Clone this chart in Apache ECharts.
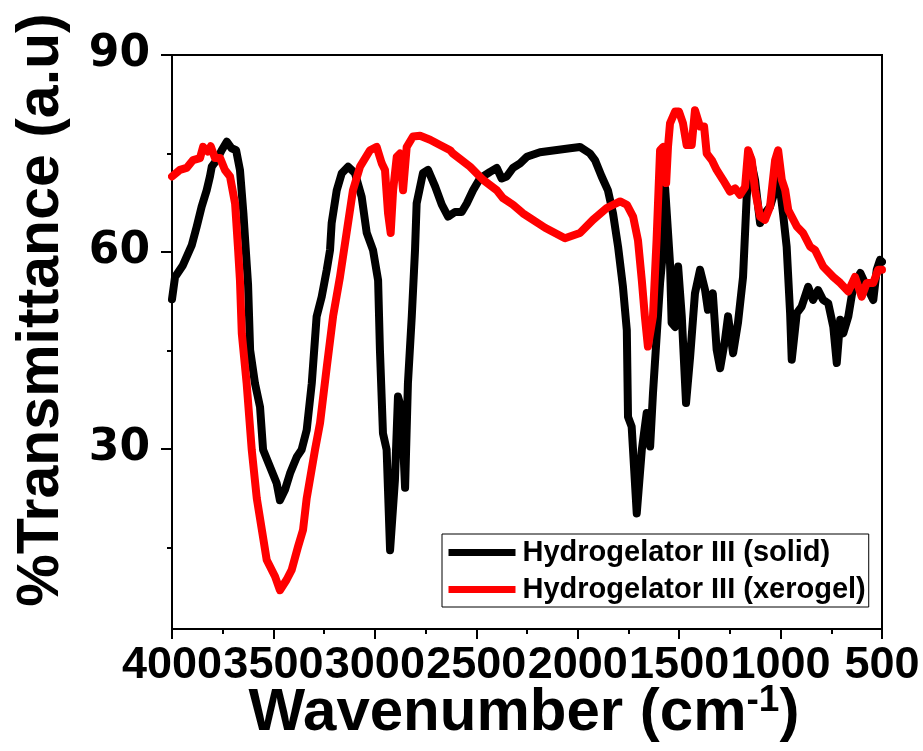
<!DOCTYPE html>
<html>
<head>
<meta charset="utf-8">
<script src="https://cdn.jsdelivr.net/npm/echarts@6/dist/echarts.min.js"></script>
<style>
  html, body { margin: 0; padding: 0; background: #fff; }
  #chart { width: 923px; height: 751px; }
</style>
</head>
<body>
<div id="chart"></div>
<script>
// FTIR spectra of hydrogelator III: solid powder vs. xerogel
const seriesNames = ['Hydrogelator III (solid)', 'Hydrogelator III (xerogel)'];

const solidWavenumber = [4000, 3985, 3946, 3903, 3878, 3854, 3829, 3813, 3804, 3780, 3755, 3730, 3706, 3684, 3665, 3648, 3632, 3625, 3615, 3591, 3566, 3551, 3517, 3484, 3468, 3443, 3418, 3385, 3361, 3336, 3311, 3287, 3262, 3237, 3221, 3213, 3188, 3163, 3132, 3098, 3065, 3040, 3009, 2984, 2975, 2960, 2942, 2925, 2901, 2886, 2868, 2851, 2837, 2818, 2802, 2794, 2763, 2738, 2703, 2670, 2639, 2605, 2572, 2547, 2516, 2482, 2432, 2399, 2375, 2350, 2319, 2284, 2251, 2186, 2112, 2038, 1989, 1939, 1915, 1882, 1851, 1826, 1801, 1777, 1758, 1752, 1734, 1709, 1684, 1660, 1643, 1629, 1610, 1594, 1579, 1569, 1545, 1537, 1520, 1505, 1487, 1466, 1446, 1422, 1397, 1372, 1358, 1334, 1315, 1298, 1274, 1259, 1234, 1210, 1185, 1167, 1150, 1126, 1101, 1077, 1052, 1027, 1008, 988, 970, 953, 945, 920, 896, 864, 840, 815, 790, 765, 740, 723, 706, 691, 666, 642, 607, 575, 543, 526, 510, 500];
const solidTransmittance = [52.8, 56.2, 58.0, 61.0, 63.9, 66.9, 69.4, 71.5, 73.0, 74.0, 75.5, 76.8, 75.8, 75.5, 72.5, 65.9, 58.3, 55.0, 45.1, 40.0, 36.4, 29.9, 27.3, 24.8, 22.2, 23.8, 26.3, 28.8, 29.9, 32.9, 40.0, 50.2, 53.2, 57.3, 60.3, 64.4, 69.4, 72.0, 73.0, 72.0, 68.4, 62.9, 60.3, 55.7, 45.1, 32.4, 29.9, 14.6, 25.3, 38.0, 36.0, 24.1, 40.0, 50.2, 60.3, 67.4, 72.0, 72.5, 70.0, 67.2, 65.4, 66.1, 66.1, 67.4, 69.4, 71.2, 72.2, 72.8, 71.2, 71.5, 72.8, 73.5, 74.5, 75.2, 75.5, 75.8, 76.0, 75.0, 74.0, 71.5, 69.4, 65.9, 60.8, 54.7, 48.1, 34.9, 33.4, 20.2, 29.9, 35.5, 30.4, 38.5, 47.6, 55.3, 60.3, 69.7, 58.3, 49.2, 48.6, 57.8, 50.2, 37.0, 44.0, 53.7, 57.3, 54.2, 51.2, 53.7, 45.1, 42.3, 46.6, 50.2, 44.6, 49.2, 56.2, 68.4, 74.5, 71.0, 64.4, 65.9, 66.9, 69.4, 71.0, 65.9, 60.8, 50.7, 43.6, 50.7, 51.7, 54.7, 52.7, 54.2, 52.7, 52.2, 48.6, 43.1, 49.7, 47.6, 50.2, 54.7, 56.8, 54.7, 52.7, 57.3, 58.8, 58.5];

const xerogelWavenumber = [4000, 3961, 3928, 3896, 3862, 3847, 3823, 3809, 3788, 3763, 3739, 3714, 3689, 3675, 3665, 3656, 3632, 3607, 3582, 3557, 3533, 3492, 3468, 3435, 3410, 3379, 3354, 3336, 3295, 3270, 3237, 3206, 3172, 3139, 3108, 3073, 3024, 2991, 2966, 2950, 2935, 2922, 2910, 2892, 2876, 2861, 2843, 2812, 2777, 2728, 2679, 2629, 2615, 2531, 2467, 2399, 2368, 2319, 2270, 2161, 2063, 1989, 1925, 1857, 1791, 1758, 1727, 1703, 1684, 1669, 1654, 1629, 1611, 1594, 1579, 1564, 1555, 1545, 1520, 1501, 1481, 1463, 1438, 1422, 1413, 1397, 1377, 1364, 1339, 1315, 1284, 1249, 1224, 1200, 1175, 1160, 1142, 1126, 1101, 1077, 1052, 1027, 1012, 994, 977, 962, 920, 889, 854, 830, 790, 740, 706, 666, 633, 600, 575, 543, 519, 500];
const xerogelTransmittance = [71.5, 72.5, 72.8, 74.0, 74.3, 76.0, 75.3, 76.1, 74.3, 74.3, 72.5, 71.5, 67.4, 60.8, 55.7, 47.6, 40.0, 29.9, 22.5, 17.7, 13.1, 10.6, 8.5, 10.1, 11.6, 15.1, 17.7, 22.5, 29.9, 34.0, 42.5, 50.2, 56.2, 63.0, 69.4, 73.0, 75.5, 76.0, 73.5, 72.5, 65.9, 62.9, 69.4, 74.5, 75.0, 69.4, 76.0, 77.6, 77.7, 77.1, 76.3, 75.5, 75.0, 73.0, 71.0, 69.4, 68.2, 67.2, 65.9, 63.7, 62.1, 62.9, 64.9, 66.7, 67.7, 67.2, 65.4, 61.8, 55.7, 50.2, 45.6, 50.2, 62.0, 75.5, 76.0, 70.5, 76.0, 79.6, 81.4, 81.4, 79.6, 76.3, 76.3, 81.6, 81.9, 79.1, 79.1, 75.0, 74.0, 72.5, 71.0, 69.2, 69.7, 68.7, 69.9, 75.5, 74.0, 69.4, 65.4, 64.9, 66.9, 74.0, 75.5, 71.0, 69.4, 66.4, 63.9, 62.9, 60.8, 60.3, 57.8, 56.2, 55.3, 54.0, 56.2, 53.2, 55.3, 55.3, 57.3, 57.3];

const xTicks = [4000, 3500, 3000, 2500, 2000, 1500, 1000, 500];
const yTicks = [30, 60, 90];
const yMinorTicks = [15, 45, 75];

const toPairs = (xs, ys) => xs.map((x, i) => [x, ys[i]]);

const chart = echarts.init(document.getElementById('chart'), null, { renderer: 'canvas' });

const option = {
  backgroundColor: '#ffffff',
  animation: false,
  grid: {
    left: 172, right: 41, top: 55, bottom: 122,
    show: true, borderColor: '#000', borderWidth: 2, backgroundColor: 'transparent'
  },
  xAxis: {
    type: 'value',
    inverse: true,
    min: 500,
    max: 4000,
    interval: 500,
    axisLine: { show: true, lineStyle: { color: '#000', width: 2 } },
    axisTick: { show: true, inside: false, length: 10, lineStyle: { color: '#000', width: 2 } },
    minorTick: { show: true, splitNumber: 2, length: 5, lineStyle: { color: '#000', width: 2 } },
    splitLine: { show: false },
    axisLabel: {
      show: true,
      margin: 14,
      color: '#000',
      fontFamily: 'Liberation Sans',
      fontWeight: 'bold',
      fontSize: 45,
      formatter: v => (xTicks.includes(v) ? String(v) : '')
    }
  },
  yAxis: [
    {
      type: 'value',
      position: 'left',
      min: 2.6,
      max: 90,
      axisLine: { show: true, lineStyle: { color: '#000', width: 2 } },
      axisTick: { show: true, inside: false, length: 11, customValues: yTicks, lineStyle: { color: '#000', width: 2 } },
      splitLine: { show: false },
      axisLabel: {
        show: true,
        margin: 22,
        color: '#000',
        fontFamily: 'DejaVu Sans',
        fontWeight: 'bold',
        fontSize: 44,
        customValues: yTicks,
        formatter: v => String(v)
      }
    },
    {
      type: 'value',
      position: 'left',
      offset: 0,
      min: 2.6,
      max: 90,
      axisLine: { show: false },
      axisTick: { show: true, inside: false, length: 5, customValues: yMinorTicks, lineStyle: { color: '#000', width: 2 } },
      splitLine: { show: false },
      axisLabel: { show: false }
    }
  ],
  legend: {
    left: 442,
    top: 534,
    orient: 'vertical',
    align: 'left',
    backgroundColor: '#fff',
    borderColor: '#000',
    borderWidth: 1,
    padding: [4, 3, 3, 3],
    itemGap: 8,
    itemWidth: 67,
    itemHeight: 14,
    lineStyle: { width: 7, cap: 'butt' },
    itemStyle: { opacity: 0 },
    textStyle: {
      color: '#000',
      fontFamily: 'Liberation Sans',
      fontWeight: 'bold',
      fontSize: 29,
      padding: [0, 0, 0, 2]
    },
    data: seriesNames
  },
  graphic: [
    {
      type: 'text',
      x: 524,
      y: 713,
      style: {
        text: '{a|Wavenumber (cm}{s|-1}{a|)}',
        textAlign: 'center',
        textVerticalAlign: 'middle',
        fill: '#000',
        rich: {
          a: { fontFamily: 'Liberation Sans', fontWeight: 'bold', fontSize: 60, fill: '#000', lineHeight: 62 },
          s: { fontFamily: 'Liberation Sans', fontWeight: 'bold', fontSize: 37, fill: '#000', verticalAlign: 'top', lineHeight: 37 }
        }
      }
    },
    {
      type: 'text',
      x: 42,
      y: 310,
      rotation: Math.PI / 2,
      style: {
        text: '%Transmittance (a.u)',
        textAlign: 'center',
        textVerticalAlign: 'middle',
        fill: '#000',
        font: 'bold 59px "Liberation Sans"'
      }
    }
  ],
  series: [
    {
      name: seriesNames[0],
      type: 'line',
      data: toPairs(solidWavenumber, solidTransmittance),
      showSymbol: false,
      symbol: 'none',
      yAxisIndex: 0,
      lineStyle: { color: '#000000', width: 8, join: 'round', cap: 'round' },
      itemStyle: { color: '#000000' },
      z: 2
    },
    {
      name: seriesNames[1],
      type: 'line',
      data: toPairs(xerogelWavenumber, xerogelTransmittance),
      showSymbol: false,
      symbol: 'none',
      yAxisIndex: 0,
      lineStyle: { color: '#ff0000', width: 8, join: 'round', cap: 'round' },
      itemStyle: { color: '#ff0000' },
      z: 3
    }
  ]
};

chart.setOption(option);
</script>
</body>
</html>
